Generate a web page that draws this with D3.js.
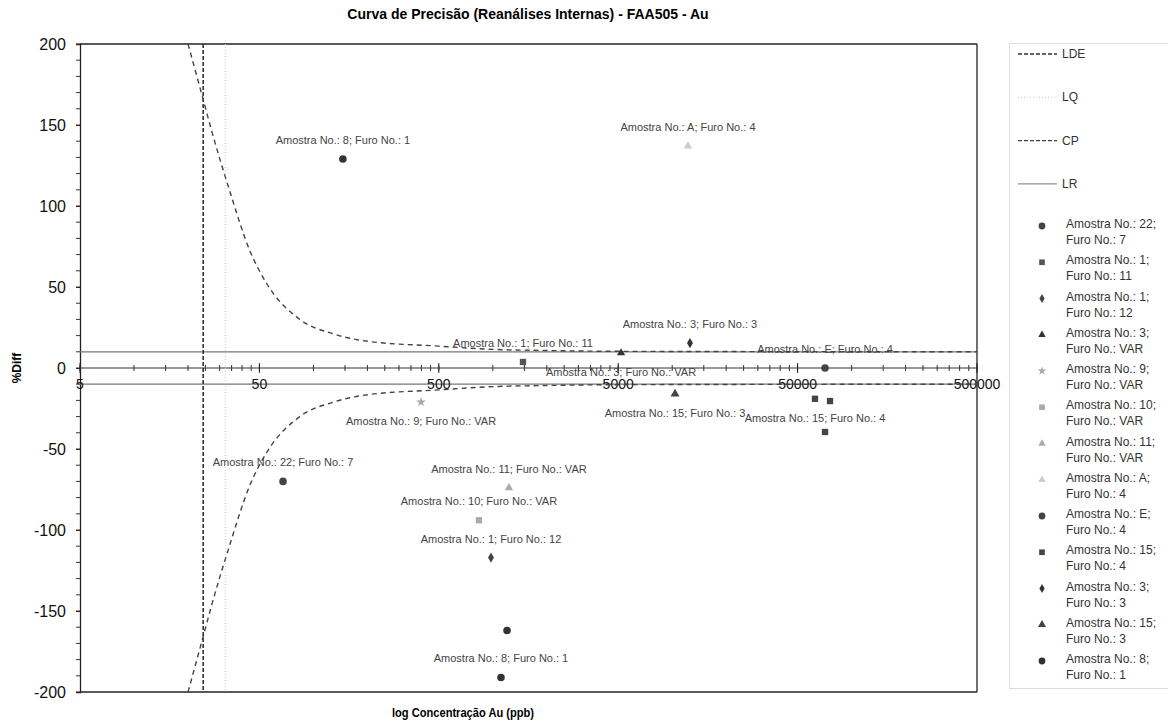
<!DOCTYPE html>
<html><head><meta charset="utf-8">
<script src="https://cdn.jsdelivr.net/npm/d3@7"></script>
<style>body{margin:0;background:#fff} text{font-family:"Liberation Sans",Arial,sans-serif}</style>
</head><body><svg id="c" width="1168" height="727"></svg>
<script>
// ---------- data ----------
const chartTitle = "Curva de Precisão (Reanálises Internas) - FAA505 - Au";
const xTitle = "log Concentração Au (ppb)";
const yTitle = "%Diff";
const xTickLabels = [5, 50, 500, 5000, 50000, 500000];
const yTickLabels = [-200, -150, -100, -50, 0, 50, 100, 150, 200];
const ldeValue = 24.3;
const lqValue = 32.3;
const lrValue = 10;
const cpConc = [20, 24, 27, 34, 44, 55, 84, 130, 200, 500, 1000, 2000, 5000, 500000];
const cpDiff = [200, 168, 147, 110, 73, 52, 30, 21, 16.5, 13.5, 11.5, 10.8, 10.3, 10];
const lineNames = ["LDE", "LQ", "CP", "LR"];
const seriesAmostra = ["22", "1", "1", "3", "9", "10", "11", "A", "E", "15", "3", "15", "8"];
const seriesFuro = ["7", "11", "12", "VAR", "VAR", "VAR", "VAR", "4", "4", "4", "3", "3", "1"];
const seriesConc = [[67.7], [1473], [977], [5186], [398], [837], [1230], [12245], [71100], [62500, 75800, 71100], [12560], [10370], [146, 1200, 1111]];
const seriesDiff = [[-70], [3.7], [-117], [9.3], [-21], [-94], [-74], [137], [0], [-19, -20.4, -39.5], [15.4], [-16], [129, -162, -191]];
// label: 1 above, -1 below, 0 none
const seriesLabelPos = [[1], [1], [1], [-1], [-1], [1], [1], [1], [1], [-1, 0, 0], [1], [-1], [1, 0, 1]];

// ---------- styles ----------
const symTypes = [d3.symbolCircle, d3.symbolSquare, d3.symbolDiamond, d3.symbolTriangle, d3.symbolStar, d3.symbolSquare, d3.symbolTriangle, d3.symbolTriangle, d3.symbolCircle, d3.symbolSquare, d3.symbolDiamond, d3.symbolTriangle, d3.symbolCircle];
const symColors = ["#444", "#555", "#444", "#333", "#aaa", "#aaa", "#aaa", "#ccc", "#444", "#444", "#333", "#444", "#333"];
const symSizes = [45, 40, 30, 30, 30, 40, 30, 30, 45, 40, 30, 35, 45];

const svg = d3.select("#c");
const L = 80, R = 977, T = 44, B = 692;
const x = d3.scaleLog().domain([5, 500000]).range([L, R]);
const y = d3.scaleLinear().domain([-200, 200]).range([B, T]);

svg.append("defs").append("clipPath").attr("id", "pc")
  .append("rect").attr("x", L).attr("y", T).attr("width", R - L).attr("height", B - T);

// title
svg.append("text").attr("x", 528).attr("y", 19).attr("text-anchor", "middle")
  .attr("font-size", 14).attr("font-weight", "bold").text(chartTitle);
svg.append("text").attr("x", 463).attr("y", 717).attr("text-anchor", "middle")
  .attr("font-size", 13).attr("font-weight", "bold").attr("textLength", 142).attr("lengthAdjust", "spacingAndGlyphs").text(xTitle);
svg.append("text").attr("transform", "translate(21,368) rotate(-90)").attr("text-anchor", "middle")
  .attr("font-size", 12).attr("font-weight", "bold").text(yTitle);

// plot border
svg.append("line").attr("x1", L).attr("x2", R).attr("y1", T).attr("y2", T).attr("stroke", "#222").attr("stroke-width", 1.3);
svg.append("line").attr("x1", L).attr("x2", R).attr("y1", B).attr("y2", B).attr("stroke", "#222").attr("stroke-width", 1.3);
svg.append("line").attr("x1", R).attr("x2", R).attr("y1", T).attr("y2", B).attr("stroke", "#222").attr("stroke-width", 1.3);

// y axis
const yAxis = d3.axisLeft(y).tickValues(yTickLabels).tickSize(4).tickFormat(d => String(d));
const gy = svg.append("g").attr("transform", `translate(${L},0)`).call(yAxis);
gy.select(".domain").attr("stroke", "#222").attr("stroke-width", 1.3);
gy.selectAll("text").attr("font-size", 16).attr("fill", "#111").attr("x", -14);
gy.selectAll(".tick line").attr("stroke", "#222");
const yMinor = d3.range(-200, 201, 10);
svg.append("g").selectAll("line").data(yMinor).join("line")
  .attr("x1", L - 4).attr("x2", L).attr("y1", d => y(d)).attr("y2", d => y(d)).attr("stroke", "#333");

// LR horizontal lines
svg.append("g").selectAll("line").data([lrValue, -lrValue]).join("line")
  .attr("x1", L).attr("x2", R).attr("y1", d => y(d)).attr("y2", d => y(d))
  .attr("stroke", "#777").attr("stroke-width", 1.2);

// x axis at y=0
const minorX = [];
xTickLabels.forEach(v => { for (let k = 1; k <= 9; k++) { const t = v * k; if (t <= 500000) minorX.push(t); } });
const gx = svg.append("g");
gx.append("line").attr("x1", L).attr("x2", R).attr("y1", y(0)).attr("y2", y(0)).attr("stroke", "#333").attr("stroke-width", 1.2);
gx.selectAll("line.mn").data(minorX).join("line").attr("class", "mn")
  .attr("x1", d => x(d)).attr("x2", d => x(d)).attr("y1", y(0) - 3).attr("y2", y(0) + 3).attr("stroke", "#333");
gx.selectAll("line.mj").data(xTickLabels).join("line").attr("class", "mj")
  .attr("x1", d => x(d)).attr("x2", d => x(d)).attr("y1", y(0) - 5).attr("y2", y(0) + 5).attr("stroke", "#222");
gx.selectAll("text").data(xTickLabels).join("text")
  .attr("x", d => x(d)).attr("y", y(0) + 21).attr("text-anchor", "middle").attr("font-size", 14).attr("fill", "#111")
  .text(d => d);

const plot = svg.append("g").attr("clip-path", "url(#pc)");
// LDE & LQ
plot.append("line").attr("x1", x(ldeValue)).attr("x2", x(ldeValue)).attr("y1", T).attr("y2", B)
  .attr("stroke", "#333").attr("stroke-width", 1.6).attr("stroke-dasharray", "4,2");
plot.append("line").attr("x1", x(lqValue)).attr("x2", x(lqValue)).attr("y1", T).attr("y2", B)
  .attr("stroke", "#ccc").attr("stroke-width", 1).attr("stroke-dasharray", "1,2");
// CP curves
const cpPts = cpConc.map((c, i) => [c, cpDiff[i]]);
const cpLine = d3.line().x(d => x(d[0])).y(d => y(d[1])).curve(d3.curveMonotoneX);
plot.append("path").attr("d", cpLine(cpPts)).attr("fill", "none").attr("stroke", "#444").attr("stroke-width", 1.4).attr("stroke-dasharray", "5,4");
plot.append("path").attr("d", cpLine(cpPts.map(p => [p[0], -p[1]]))).attr("fill", "none").attr("stroke", "#444").attr("stroke-width", 1.4).attr("stroke-dasharray", "5,4");

// points
seriesConc.forEach((arr, s) => {
  const name = `Amostra No.: ${seriesAmostra[s]}; Furo No.: ${seriesFuro[s]}`;
  arr.forEach((c, i) => {
    const px = x(c), py = y(seriesDiff[s][i]);
    plot.append("path").attr("d", d3.symbol(symTypes[s], symSizes[s])())
      .attr("transform", `translate(${px},${py})`).attr("fill", symColors[s]);
    const lp = seriesLabelPos[s][i];
    if (lp !== 0) {
      svg.append("text").attr("x", px).attr("y", lp > 0 ? py - 15 : py + 23).attr("text-anchor", "middle")
        .attr("font-size", 11).attr("fill", "#444").text(name);
    }
  });
});

// legend
const lg = svg.append("g");
lg.append("rect").attr("x", 1009.5).attr("y", 43.5).attr("width", 170).attr("height", 645)
  .attr("fill", "none").attr("stroke", "#bbb").attr("stroke-dasharray", "1,1");
const lineStyles = [
  {stroke: "#333", dash: "4,2", w: 1.5},
  {stroke: "#ccc", dash: "1,2", w: 1},
  {stroke: "#444", dash: "4,2", w: 1.2},
  {stroke: "#777", dash: null, w: 1}
];
lineNames.forEach((n, i) => {
  const yy = 54 + i * 43.3;
  lg.append("line").attr("x1", 1018).attr("x2", 1057).attr("y1", yy).attr("y2", yy)
    .attr("stroke", lineStyles[i].stroke).attr("stroke-width", lineStyles[i].w).attr("stroke-dasharray", lineStyles[i].dash);
  lg.append("text").attr("x", 1062).attr("y", yy + 4).attr("font-size", 12).attr("fill", "#333").text(n);
});
seriesAmostra.forEach((a, s) => {
  const yy = 224 + s * 36.25;
  lg.append("path").attr("d", d3.symbol(symTypes[s], symSizes[s] * 0.8)())
    .attr("transform", `translate(1042,${yy + 2})`).attr("fill", symColors[s]);
  const t = lg.append("text").attr("x", 1066).attr("y", yy + 4).attr("font-size", 12).attr("fill", "#333");
  t.append("tspan").attr("x", 1066).text(`Amostra No.: ${a};`);
  t.append("tspan").attr("x", 1066).attr("dy", 16).text(`Furo No.: ${seriesFuro[s]}`);
});
</script></body></html>
